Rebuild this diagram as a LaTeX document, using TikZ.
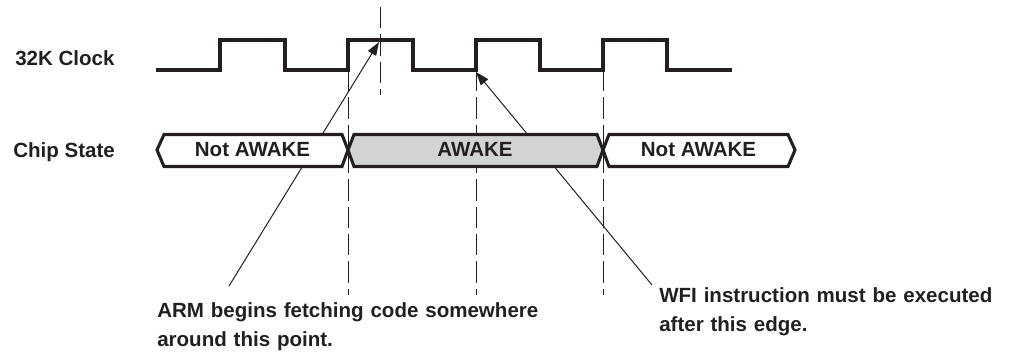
\documentclass[tikz,border=0pt]{standalone}
\usepackage{fontspec}
\setmainfont{Liberation Sans}
\usetikzlibrary{arrows.meta}
\definecolor{ink}{RGB}{35,31,32}
\definecolor{awakegray}{RGB}{210,211,213}
\begin{document}
\begin{tikzpicture}[x=0.75pt,y=-0.75pt,
  txt/.style={font=\fontsize{15.4}{21.4}\selectfont\bfseries, text=ink, inner sep=0pt},
  wave/.style={draw=ink, line width=2.3pt, line join=miter, line cap=butt},
  guide/.style={draw=ink, line width=0.75pt, dash pattern=on 16pt off 4.5pt},
  leader/.style={draw=ink, line width=0.75pt, -{Triangle[length=10pt,width=7pt]}},
  statebox/.style={draw=ink, line width=2.3pt, line join=miter},
]
\useasboundingbox (0,0) rectangle (1013,352);

% labels
\node[txt, anchor=base west] (clklbl) at (15,66) {32K Clock};
\node[txt, anchor=base west] (statelbl) at (13,158) {Chip State};

% guide lines
\draw[guide] (380,7) -- (380,95);
\draw[guide] (348,70) -- (348,295);
\draw[guide] (476,70) -- (476,295);
\draw[guide] (603,70) -- (603,295);

% clock
\draw[wave] (156,70) -- (220,70) -- (220,40) -- (285,40) -- (285,70)
  -- (348,70) -- (348,40) -- (413,40) -- (413,70)
  -- (476,70) -- (476,40) -- (540,40) -- (540,70)
  -- (603,70) -- (603,40) -- (667,40) -- (667,70) -- (732,70);

% annotation texts
\node[txt, anchor=base west, text width=420pt, align=left] (armtxt) at (157,318)
  {ARM begins fetching code somewhere\\around this point.};
\node[txt, anchor=base west, text width=300pt, align=left] (wfitxt) at (659,303)
  {WFI instruction must be executed\\after this edge.};

% leader lines
\coordinate (armfoot) at (229,286);
\coordinate (armtip) at (379,42);
\coordinate (wfifoot) at (652,285);
\coordinate (wfitip) at (476,72);
\draw[leader] (armfoot) -- (armtip);
\draw[leader] (wfifoot) -- (wfitip);

% chip state boxes
\draw[statebox, fill=white] (157,150) -- (164,134.5) -- (342,134.5) -- (348,150)
  -- (342,166.5) -- (164,166.5) -- cycle;
\draw[statebox, fill=awakegray] (348,150) -- (354,134.5) -- (597,134.5) -- (603,150)
  -- (597,166.5) -- (354,166.5) -- cycle;
\draw[statebox, fill=white] (603,150) -- (609,134.5) -- (788,134.5) -- (795,150)
  -- (788,166.5) -- (609,166.5) -- cycle;
\node[txt, anchor=base] (s1) at (252.5,157) {Not AWAKE};
\node[txt, anchor=base] (s2) at (475,157) {AWAKE};
\node[txt, anchor=base] (s3) at (698.5,157) {Not AWAKE};
\end{tikzpicture}
\end{document}
